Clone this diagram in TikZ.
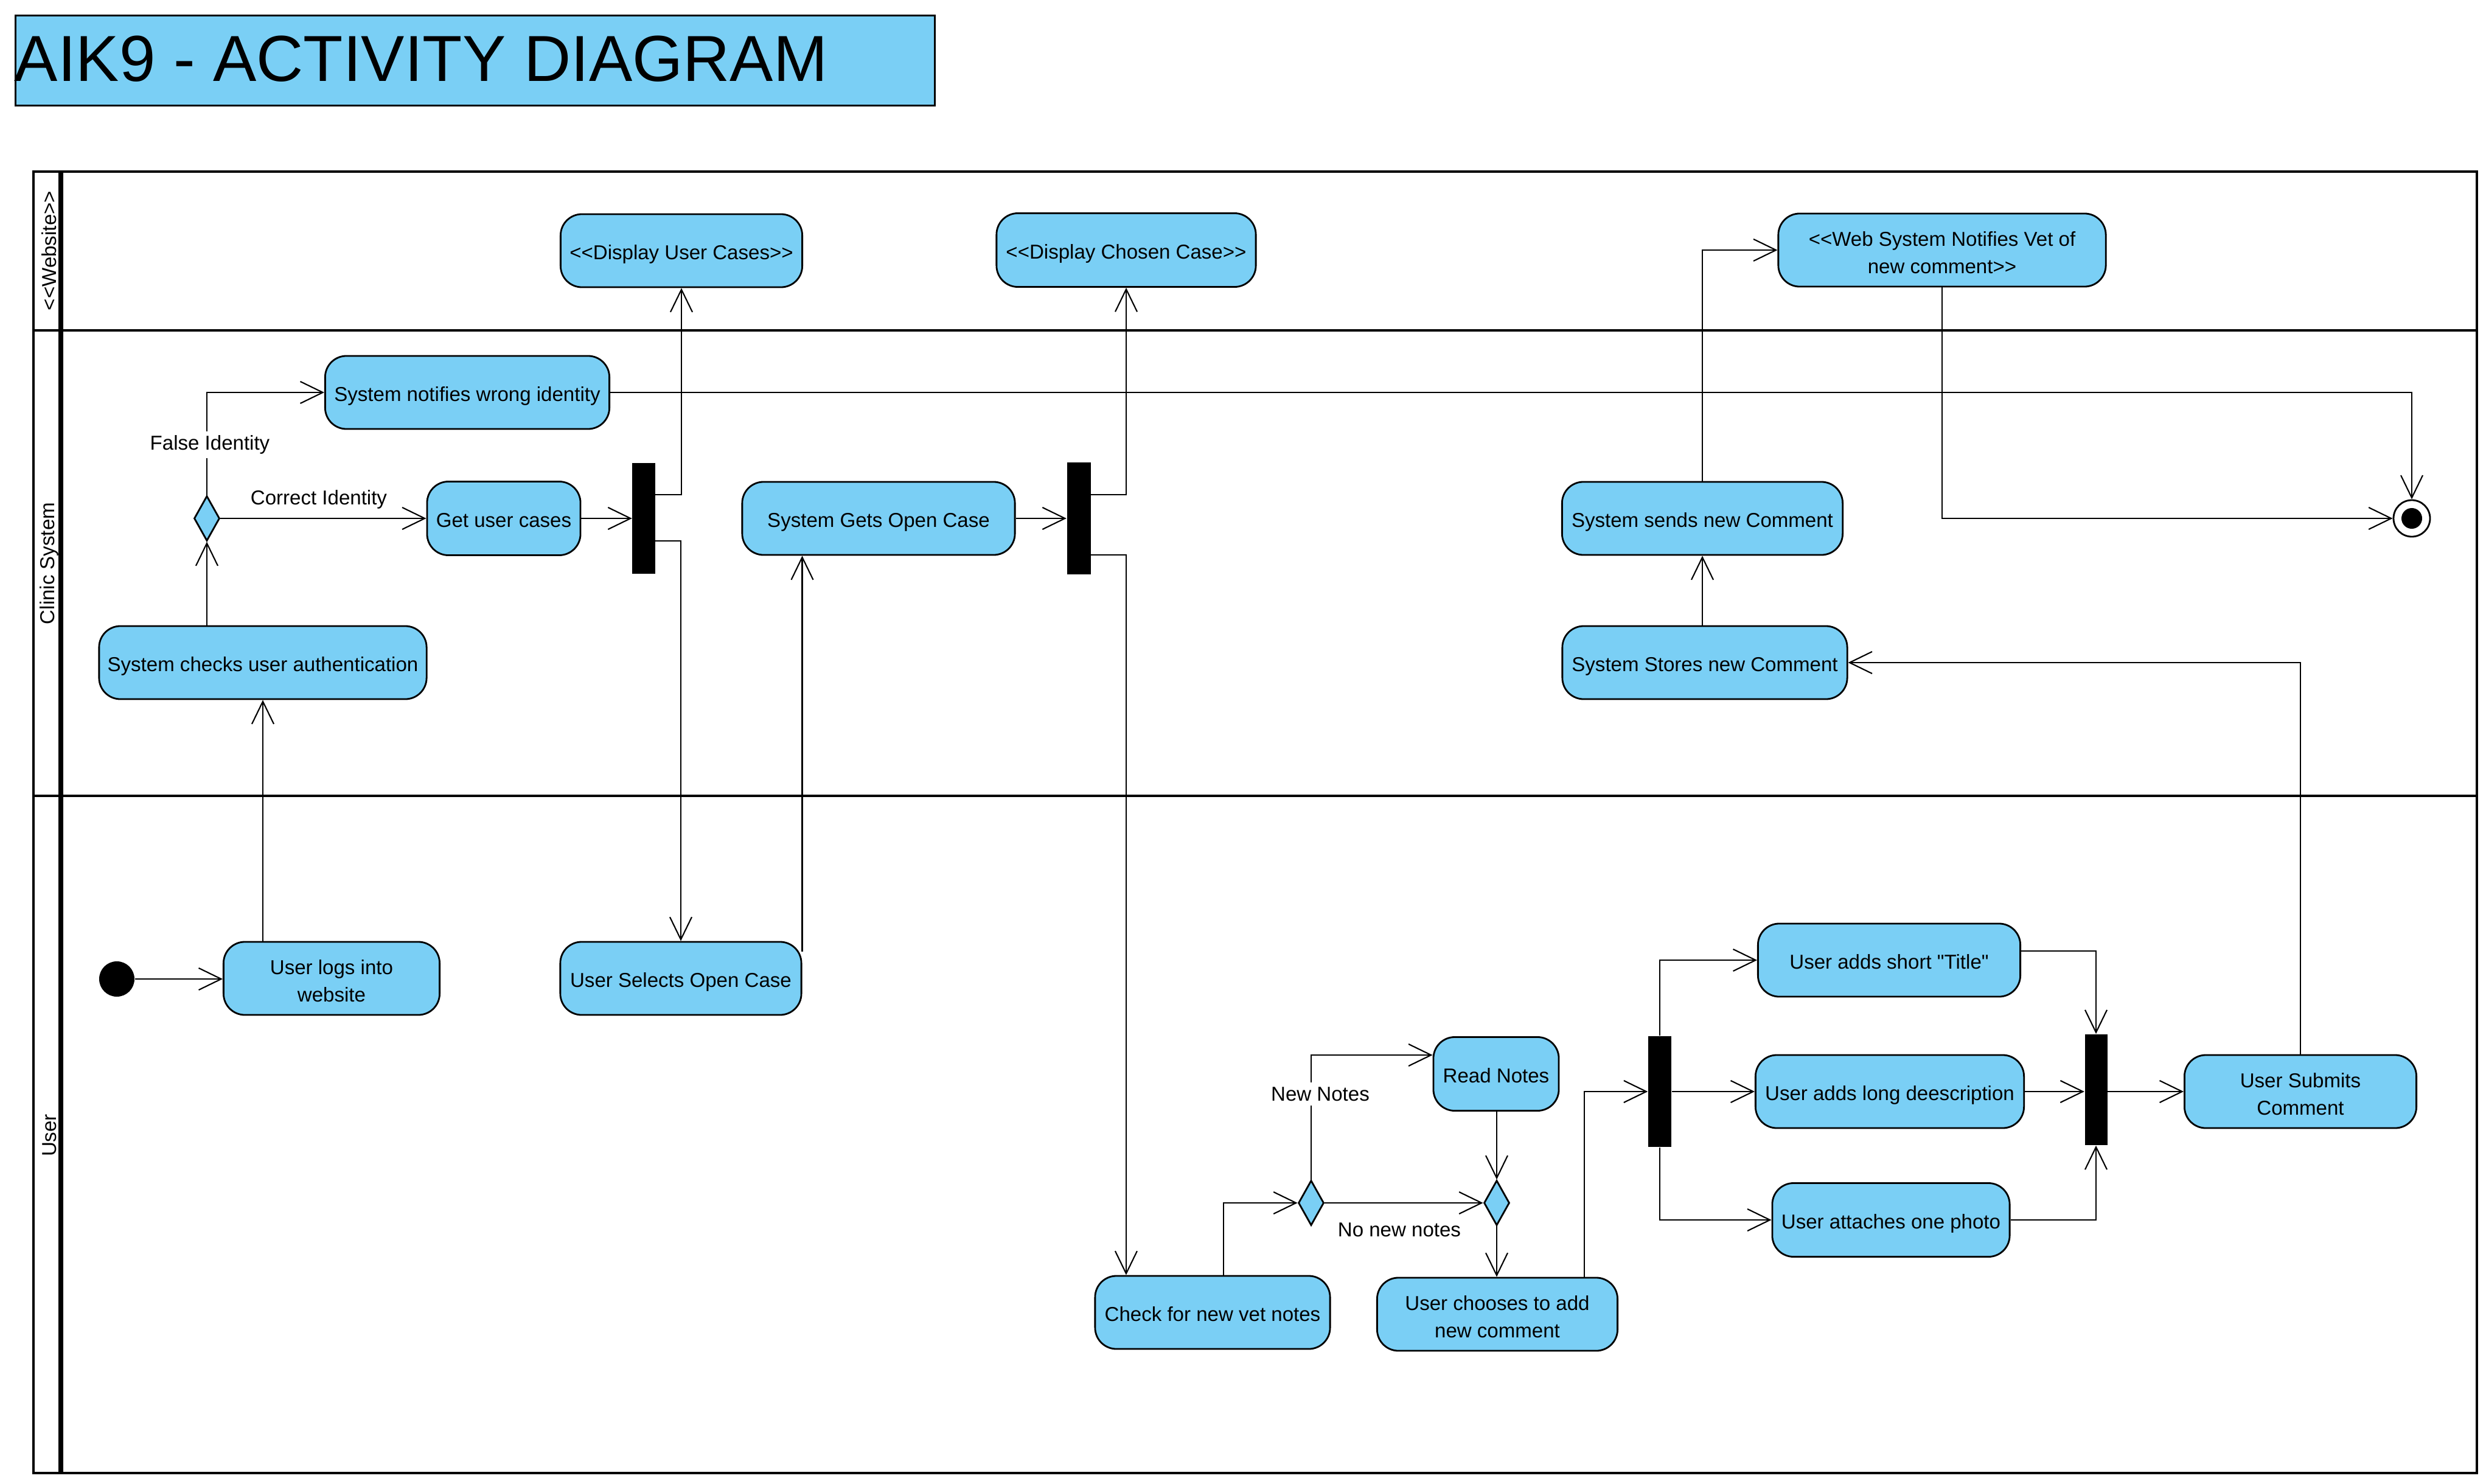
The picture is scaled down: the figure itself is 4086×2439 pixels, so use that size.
\documentclass[tikz,border=0pt]{standalone}
\usepackage{fontspec}
\newfontfamily\actfont{Liberation Sans}
\usetikzlibrary{arrows.meta,shapes.geometric,calc}
\definecolor{actblue}{HTML}{7ACFF5}
\begin{document}
\begin{tikzpicture}[x=0.01cm,y=-0.01cm,
  every node/.style={font=\actfont\fontsize{9.4pt}{12.8pt}\selectfont},
  act/.style={draw, fill=actblue, rounded corners=0.35cm, line width=0.8pt, align=center, inner sep=0pt},
  one/.style={text height=1.05em, text depth=0.23em},
  two/.style={text height=2.18em},
  bar/.style={fill=black, draw=none, inner sep=0pt, minimum width=0.38cm, minimum height=1.82cm},
  dec/.style={diamond, draw, fill=actblue, line width=0.8pt, inner sep=0pt, minimum width=0.42cm, minimum height=0.74cm},
  arr/.style={line width=0.6pt, -{Straight Barb[length=0.37cm,width=0.36cm]}},
  lab/.style={fill=white, inner sep=2pt},
  lane/.style={line width=1.15pt}]

\useasboundingbox (0,0) rectangle (4086,2439);

% title
\node[draw, fill=actblue, line width=0.85pt, minimum width=15.10cm, minimum height=1.48cm, inner sep=0pt, anchor=north west] (title) at (24,24) {};
\node[anchor=west, inner sep=0pt, font=\actfont\fontsize{30.4pt}{36pt}\selectfont] (titletext) at (23,97) {AIK9 - ACTIVITY DIAGRAM};

% swimlanes
\draw[lane] (55,282) rectangle (4071,2421);
\draw[lane] (55,543) -- (4071,543);
\draw[lane] (55,1308) -- (4071,1308);
\draw[line width=2pt] (100,282) -- (100,2421);
\node[rotate=90, inner sep=0pt] (lanew) at (81,412) {<<Website>>};
\node[rotate=90, inner sep=0pt] (lanec) at (81,926) {Clinic System};
\node[rotate=90, inner sep=0pt] (laneu) at (81,1866) {User};

% website lane
\node[act, one, minimum width=3.97cm, minimum height=1.20cm] (dispuser) at (1120,412) {<<Display User Cases>>};
\node[act, one, minimum width=4.26cm, minimum height=1.21cm] (dispchosen) at (1851,411) {<<Display Chosen Case>>};
\node[act, two, minimum width=5.38cm, minimum height=1.20cm] (webnotify) at (3192,411) {<<Web System Notifies Vet of\\new comment>>};

% clinic system lane
\node[act, one, minimum width=4.67cm, minimum height=1.20cm] (wrong) at (768,645) {System notifies wrong identity};
\node[dec] (dec1) at (340,852) {};
\node[act, one, minimum width=2.52cm, minimum height=1.21cm] (getcases) at (828,852) {Get user cases};
\node[bar, minimum width=0.37cm] (fork1) at (1058,852) {};
\node[act, one, minimum width=4.48cm, minimum height=1.20cm] (gets) at (1444,852) {System Gets Open Case};
\node[bar, minimum width=0.39cm, minimum height=1.83cm] (fork2) at (1773,852) {};
\node[act, one, minimum width=4.61cm, minimum height=1.20cm] (sends) at (2798,852) {System sends new Comment};
\node[act, one, minimum width=5.38cm, minimum height=1.20cm] (auth) at (432,1089) {System checks user authentication};
\node[act, one, minimum width=4.68cm, minimum height=1.20cm] (stores) at (2802,1089) {System Stores new Comment};
\node[circle, draw, fill=white, line width=0.8pt, minimum size=0.60cm, inner sep=0pt] (final) at (3964,852) {};
\node[circle, fill=black, minimum size=0.34cm, inner sep=0pt] (finalin) at (final) {};

% user lane
\node[circle, fill=black, minimum size=0.58cm, inner sep=0pt] (init) at (192,1609) {};
\node[act, two, minimum width=3.55cm, minimum height=1.20cm] (userlogs) at (545,1608) {User logs into\\website};
\node[act, one, minimum width=3.96cm, minimum height=1.20cm] (usersel) at (1119,1608) {User Selects Open Case};
\node[act, one, minimum width=2.06cm, minimum height=1.21cm] (readnotes) at (2459,1765) {Read Notes};
\node[dec] (dn1) at (2155,1977) {};
\node[dec] (dn2) at (2460,1977) {};
\node[act, one, minimum width=3.86cm, minimum height=1.20cm] (check) at (1993,2157) {Check for new vet notes};
\node[act, two, minimum width=3.95cm, minimum height=1.20cm] (choose) at (2461,2160) {User chooses to add\\new comment};
\node[bar] (fork3) at (2728,1794) {};
\node[act, one, minimum width=4.31cm, minimum height=1.20cm] (titlebox) at (3105,1578) {User adds short "Title"};
\node[act, one, minimum width=4.41cm, minimum height=1.20cm] (longdesc) at (3106,1794) {User adds long deescription};
\node[act, one, minimum width=3.90cm, minimum height=1.21cm] (photo) at (3108,2005) {User attaches one photo};
\node[bar, minimum width=0.37cm] (join) at (3445,1791) {};
\node[act, two, minimum width=3.81cm, minimum height=1.20cm] (submit) at (3781,1794) {User Submits\\Comment};

% connectors
\draw[arr] (init.east) -- (init.east -| userlogs.west);
\draw[arr] (userlogs.north -| auth.south) -- (auth.south);
\draw[arr] (auth.north -| dec1.south) -- (dec1.south);
\draw[arr] (dec1.north) |- (wrong.west);
\draw[arr] (dec1.east) -- (getcases.west);
\draw[arr] (getcases.east) -- (fork1.west);
\draw[arr] ([yshift=0.39cm]fork1.east) -| (dispuser.south);
\draw[arr] ([yshift=-0.37cm]fork1.east) -| (usersel.north);
\draw[arr] ([yshift=-0.17cm]usersel.north east) -- (gets.south -| usersel.north east);
\draw[arr] (gets.east) -- (fork2.west);
\draw[arr] ([yshift=0.39cm]fork2.east) -| (dispchosen.south);
\draw[arr] ([yshift=-0.60cm]fork2.east) -| ([xshift=-1.42cm]check.north);
\draw[arr] ([xshift=0.18cm]check.north) |- (dn1.west);
\draw[arr] (dn1.north) |- ([yshift=0.31cm]readnotes.west);
\draw[arr] (dn1.east) -- (dn2.west);
\draw[arr] (readnotes.south -| dn2.north) -- (dn2.north);
\draw[arr] (dn2.south) -- (dn2.south |- choose.north);
\draw[arr] ([xshift=1.43cm]choose.north) |- (fork3.west);
\draw[arr] (fork3.north) |- (titlebox.west);
\draw[arr] (fork3.east |- longdesc.west) -- (longdesc.west);
\draw[arr] (fork3.south) |- (photo.west);
\draw[arr] ([yshift=0.15cm]titlebox.east) -| (join.north);
\draw[arr] (longdesc.east) -- (longdesc.east -| join.west);
\draw[arr] (photo.east) -| (join.south);
\draw[arr] (join.east |- submit.west) -- (submit.west);
\draw[arr] (submit.north) |- (stores.east);
\draw[arr] (stores.north -| sends.south) -- (sends.south);
\draw[arr] (sends.north) |- (webnotify.west);
\draw[arr] (webnotify.south) |- (final.west);
\draw[arr] (wrong.east) -| (final.north);

% guard labels
\node[lab] (lfalse) at (345,731) {False Identity};
\node[inner sep=1pt] (lcorrect) at (524,821) {Correct Identity};
\node[lab] (lnew) at (2170,1798) {New Notes};
\node[inner sep=1pt] (lnonew) at (2300,2021) {No new notes};
\end{tikzpicture}
\end{document}
